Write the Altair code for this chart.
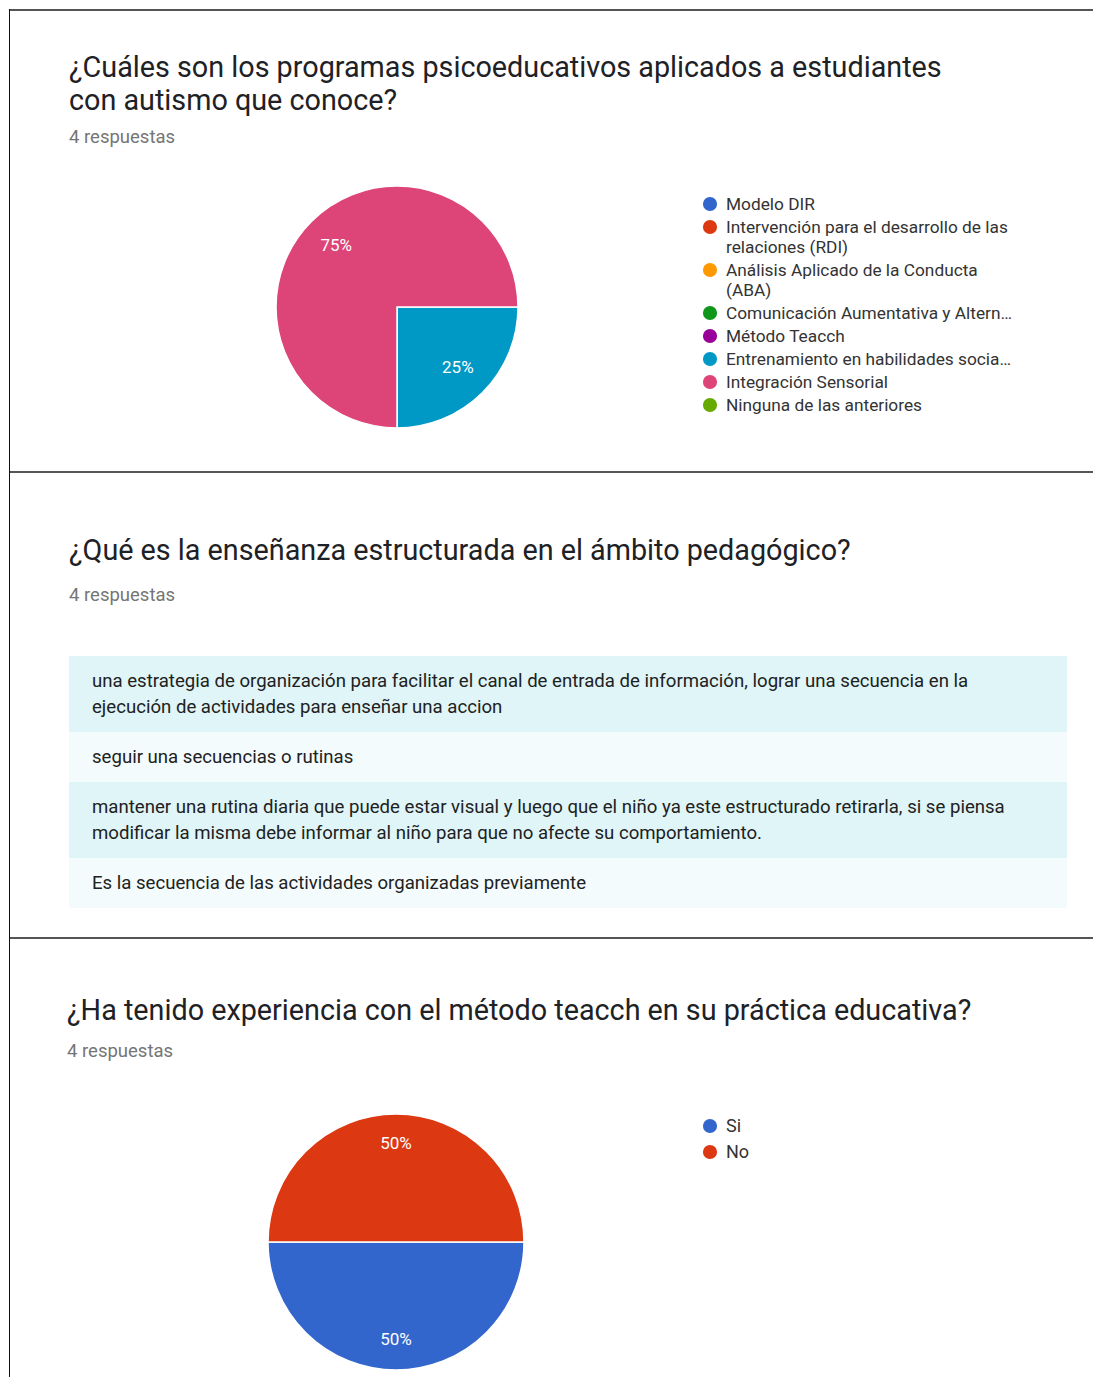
import math
import altair as alt
import pandas as pd

# ---------------- data ----------------
TITULO_1 = "¿Cuáles son los programas psicoeducativos aplicados a estudiantes\ncon autismo que conoce?"
TITULO_2 = "¿Qué es la enseñanza estructurada en el ámbito pedagógico?"
TITULO_3 = "¿Ha tenido experiencia con el método teacch en su práctica educativa?"
SUBTITULO = "4 respuestas"

PROGRAMAS = [
    "Modelo DIR",
    "Intervención para el desarrollo de las relaciones (RDI)",
    "Análisis Aplicado de la Conducta (ABA)",
    "Comunicación Aumentativa y Alternativa",
    "Método Teacch",
    "Entrenamiento en habilidades sociales",
    "Integración Sensorial",
    "Ninguna de las anteriores",
]
PROGRAMAS_LEYENDA = [
    "Modelo DIR",
    "Intervención para el desarrollo de las\nrelaciones (RDI)",
    "Análisis Aplicado de la Conducta\n(ABA)",
    "Comunicación Aumentativa y Alternativa",
    "Método Teacch",
    "Entrenamiento en habilidades sociales",
    "Integración Sensorial",
    "Ninguna de las anteriores",
]
PROGRAMAS_CONTEO = [0, 0, 0, 0, 0, 1, 3, 0]
PALETA = ["#3366cc", "#dc3912", "#ff9900", "#109618", "#990099", "#0099c6", "#dd4477", "#66aa00"]

RESPUESTAS_TEXTO = [
    "una estrategia de organización para facilitar el canal de entrada de información, lograr una secuencia en la\nejecución de actividades para enseñar una accion",
    "seguir una secuencias o rutinas",
    "mantener una rutina diaria que puede estar visual y luego que el niño ya este estructurado retirarla, si se piensa\nmodificar la misma debe informar al niño para que no afecte su comportamiento.",
    "Es la secuencia de las actividades organizadas previamente",
]
FONDOS_FILA = ["#dff5f7", "#f3fbfc"]

TEACCH = ["Si", "No"]
TEACCH_CONTEO = [2, 2]
TEACCH_COLORES = ["#3366cc", "#dc3912"]

# ---------------- layout ----------------
W = 1084
H1, H2, H3 = 462, 466, 440
FONT = "Roboto"
TXT = "#202124"
GRIS = "#757575"
THETA_RANGE = [math.pi / 2, math.pi / 2 + 2 * math.pi]
TITLE_SIZE = 28.75


def pix(n):
    return alt.Scale(domain=[0, n], range=[0, n])


def one(**kw):
    return pd.DataFrame({k: [v] for k, v in kw.items()})


def borders(H):
    top = alt.Chart(one(k=0)).mark_rule(color="#555555", strokeWidth=2).encode(
        x=alt.value(0), x2=alt.value(W), y=alt.value(1))
    left = alt.Chart(one(k=0)).mark_rule(color="#111111", strokeWidth=1).encode(
        x=alt.value(0.5), y=alt.value(0), y2=alt.value(H))
    return [top, left]


def text_at(s, x, y, size, color=TXT, lh=None):
    kw = dict(align="left", baseline="alphabetic", font=FONT, fontSize=size, color=color, lineBreak="\n")
    if lh:
        kw["lineHeight"] = lh
    return alt.Chart(one(t=s)).mark_text(**kw).encode(text="t:N", x=alt.value(x), y=alt.value(y))


# ---------- panel 1: pie ----------
pie1 = pd.DataFrame({
    "idx": list(range(len(PROGRAMAS))),
    "programa": PROGRAMAS,
    "leyenda": PROGRAMAS_LEYENDA,
    "conteo": PROGRAMAS_CONTEO,
})
nl = pie1["leyenda"].str.count("\n") + 1
adv = 23 + 20 * (nl - 1)
pie1["ly"] = 195 + adv.cumsum() - adv

color1 = alt.Color("programa:N", scale=alt.Scale(domain=PROGRAMAS, range=PALETA), legend=None)
theta1 = alt.Theta("conteo:Q", stack=True, scale=alt.Scale(range=THETA_RANGE))
C1X, C1Y = 388, 298

arc1 = alt.Chart(pie1).transform_filter("datum.conteo > 0").mark_arc(
    outerRadius=121, stroke="white", strokeWidth=1.5).encode(
    theta=theta1, color=color1, order=alt.Order("idx:Q"),
    x=alt.value(C1X), y=alt.value(C1Y))
lab1 = alt.Chart(pie1).transform_filter("datum.conteo > 0").transform_joinaggregate(
    total="sum(conteo)").transform_calculate(
    pct="round(100 * datum.conteo / datum.total) + '%'").mark_text(
    radius=86, font=FONT, fontSize=17, color="white").encode(
    theta=theta1, detail="programa:N", order=alt.Order("idx:Q"), text="pct:N",
    x=alt.value(C1X), y=alt.value(C1Y))

leg1_pts = alt.Chart(pie1).mark_point(filled=True, shape="circle", size=200, opacity=1).encode(
    x=alt.value(701), y=alt.Y("ly:Q", scale=pix(H1), axis=None), color=color1)
leg1_txt = alt.Chart(pie1).mark_text(
    align="left", baseline="alphabetic", font=FONT, fontSize=17.3, color="#333333",
    lineBreak="\n", lineHeight=20, dy=6, limit=289).encode(
    x=alt.value(717), y=alt.Y("ly:Q", scale=pix(H1), axis=None), text="leyenda:N")

panel1 = alt.layer(
    *borders(H1),
    text_at(TITULO_1, 60, 68, TITLE_SIZE, lh=32.5),
    text_at(SUBTITULO, 60, 134, 18.5, GRIS),
    arc1, lab1, leg1_pts, leg1_txt,
).properties(width=W, height=H1)

# ---------- panel 2: table of responses ----------
tab = pd.DataFrame({"texto": RESPUESTAS_TEXTO})
tab["fila"] = range(len(tab))
tab["par"] = tab["fila"] % 2
lines = tab["texto"].str.count("\n") + 1
h = 24 + 26 * lines
tab["bottom"] = 185 + h.cumsum()
tab["top"] = tab["bottom"] - h

rows = alt.Chart(tab).mark_rect().encode(
    x=alt.value(60), x2=alt.value(1058),
    y=alt.Y("top:Q", scale=pix(H2), axis=None), y2="bottom:Q",
    color=alt.Color("par:N", scale=alt.Scale(domain=[0, 1], range=FONDOS_FILA), legend=None))
rows_txt = alt.Chart(tab).mark_text(
    align="left", baseline="alphabetic", font=FONT, fontSize=18.6, color="#212121",
    lineBreak="\n", lineHeight=26, dy=31).encode(
    x=alt.value(83), y=alt.Y("top:Q", scale=pix(H2), axis=None), text="texto:N")

panel2 = alt.layer(
    rows, rows_txt,
    *borders(H2),
    text_at(TITULO_2, 60, 89, TITLE_SIZE),
    text_at(SUBTITULO, 60, 130, 18.5, GRIS),
).properties(width=W, height=H2)

# ---------- panel 3: pie Si/No ----------
pie3 = pd.DataFrame({"idx": [0, 1], "resp": TEACCH, "conteo": TEACCH_CONTEO})
pie3["ly"] = 189 + 26 * pie3["idx"]
color3 = alt.Color("resp:N", scale=alt.Scale(domain=TEACCH, range=TEACCH_COLORES), legend=None)
theta3 = alt.Theta("conteo:Q", stack=True, scale=alt.Scale(range=THETA_RANGE))
C3X, C3Y = 387, 305

arc3 = alt.Chart(pie3).mark_arc(outerRadius=128, stroke="white", strokeWidth=1.5).encode(
    theta=theta3, color=color3, order=alt.Order("idx:Q"), x=alt.value(C3X), y=alt.value(C3Y))
lab3 = alt.Chart(pie3).transform_joinaggregate(total="sum(conteo)").transform_calculate(
    pct="round(100 * datum.conteo / datum.total) + '%'").mark_text(
    radius=98, font=FONT, fontSize=17, color="white").encode(
    theta=theta3, detail="resp:N", order=alt.Order("idx:Q"), text="pct:N",
    x=alt.value(C3X), y=alt.value(C3Y))
leg3_pts = alt.Chart(pie3).mark_point(filled=True, shape="circle", size=200, opacity=1).encode(
    x=alt.value(701), y=alt.Y("ly:Q", scale=pix(H3), axis=None), color=color3)
leg3_txt = alt.Chart(pie3).mark_text(
    align="left", baseline="alphabetic", font=FONT, fontSize=18, color="#333333", dy=6).encode(
    x=alt.value(717), y=alt.Y("ly:Q", scale=pix(H3), axis=None), text="resp:N")

panel3 = alt.layer(
    *borders(H3),
    text_at(TITULO_3, 58, 83, TITLE_SIZE),
    text_at(SUBTITULO, 58, 120, 18.5, GRIS),
    arc3, lab3, leg3_pts, leg3_txt,
).properties(width=W, height=H3)

chart = alt.vconcat(panel1, panel2, panel3, spacing=0).resolve_scale(
    color="independent", theta="independent", x="independent", y="independent"
).properties(padding=0, background="white", bounds="flush").configure_view(stroke=None)

chart.save("out.html", embed_options={"renderer": "svg", "actions": False})
